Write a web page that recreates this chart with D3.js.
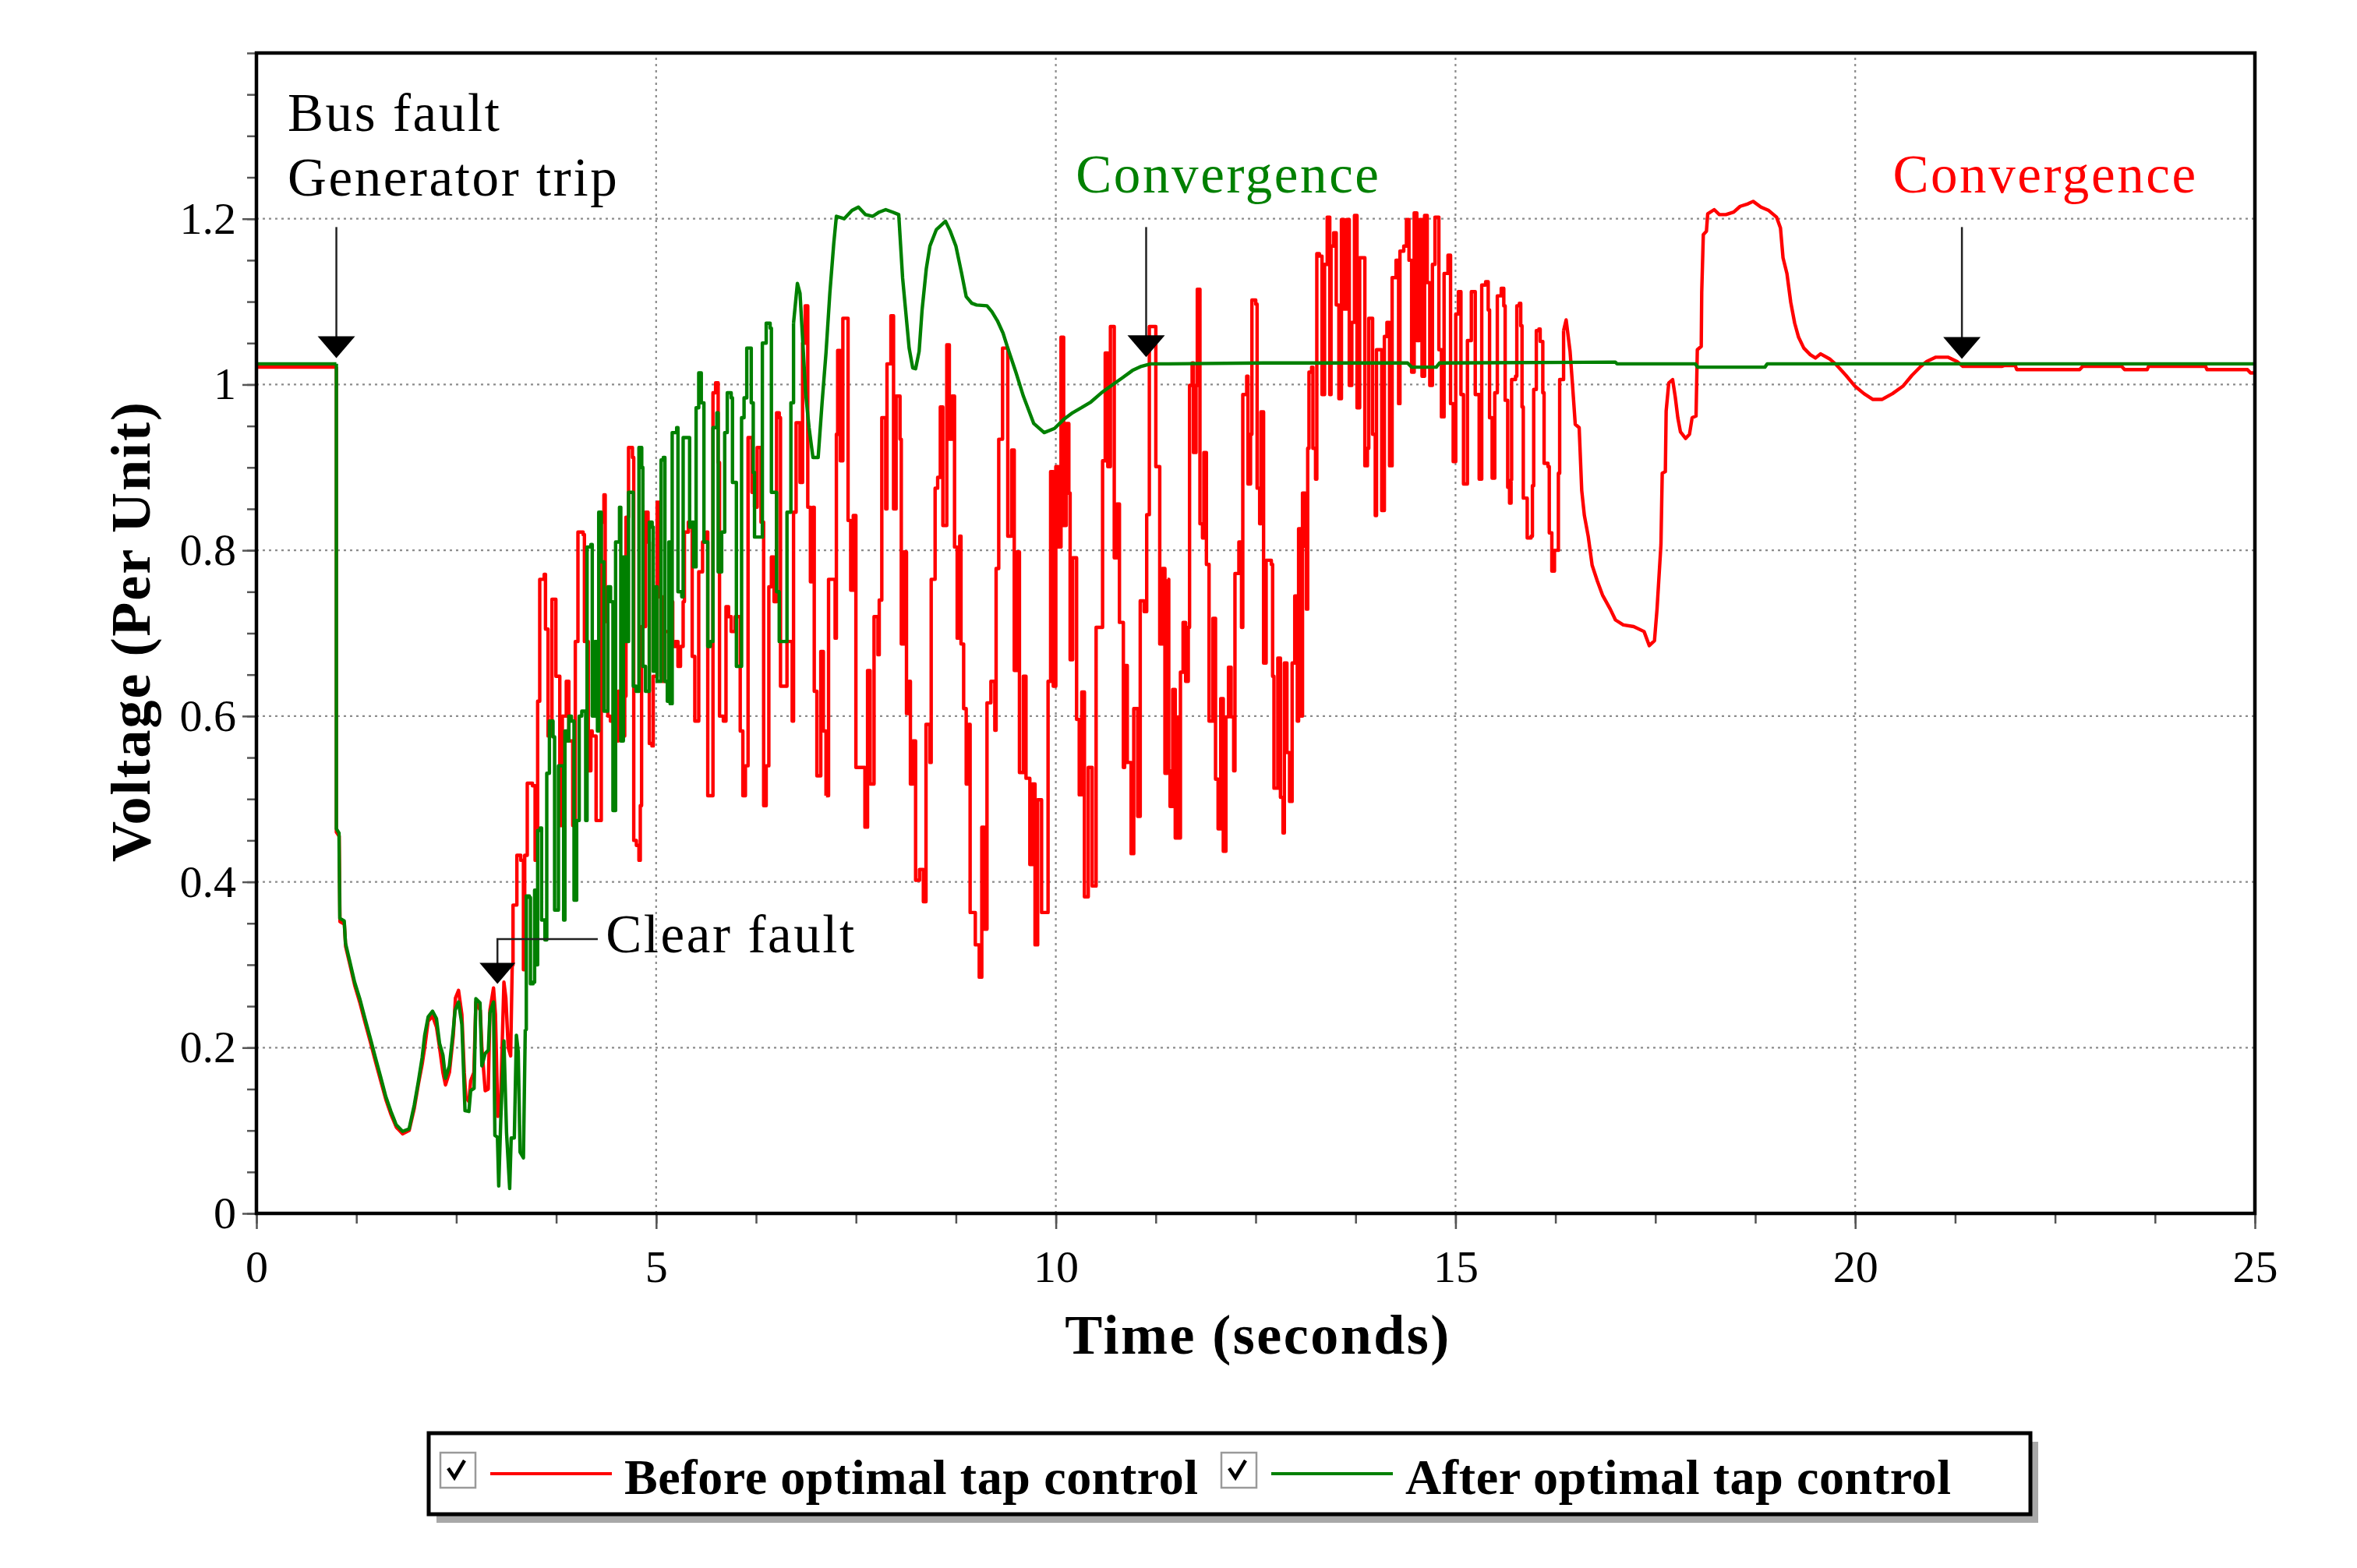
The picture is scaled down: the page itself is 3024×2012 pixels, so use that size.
<!DOCTYPE html>
<html>
<head>
<meta charset="utf-8">
<script src="https://cdn.jsdelivr.net/npm/d3@7"></script>
<style>
  html, body { margin: 0; padding: 0; background: #fff; }
  svg text { font-family: "Liberation Serif", "Times New Roman", serif; }
</style>
</head>
<body>
<div id="chart"></div>
<script>
// ---- data: [time (s), voltage (p.u.)] ----
var redPre = [[0, 1.021], [1.0, 1.021]];
var redFault = [[1.0, 0.46], [1.035, 0.455], [1.045, 0.352], [1.1, 0.349], [1.116, 0.322], [1.165, 0.302], [1.23, 0.275], [1.295, 0.254], [1.36, 0.23], [1.425, 0.207], [1.49, 0.183], [1.555, 0.16], [1.62, 0.137], [1.685, 0.119], [1.75, 0.104], [1.83, 0.096], [1.91, 0.1], [1.975, 0.127], [2.024, 0.155], [2.073, 0.18], [2.105, 0.2], [2.148, 0.232], [2.203, 0.238], [2.252, 0.225], [2.291, 0.2], [2.333, 0.17], [2.365, 0.155], [2.414, 0.17], [2.463, 0.215], [2.49, 0.26], [2.528, 0.269], [2.57, 0.24], [2.6, 0.17], [2.62, 0.14], [2.658, 0.135], [2.68, 0.16], [2.72, 0.17], [2.745, 0.255], [2.8, 0.245], [2.82, 0.2], [2.862, 0.148], [2.9, 0.15], [2.921, 0.245], [2.966, 0.272], [2.99, 0.24], [3.02, 0.117], [3.05, 0.12], [3.096, 0.279], [3.12, 0.26], [3.15, 0.2], [3.18, 0.19], [3.2, 0.3]];
var redSwingA = [[3.21, 0.372], [3.258, 0.432], [3.307, 0.426], [3.34, 0.294], [3.356, 0.432], [3.388, 0.519], [3.453, 0.516], [3.486, 0.426], [3.518, 0.618], [3.544, 0.765], [3.6, 0.771], [3.616, 0.705], [3.648, 0.576], [3.697, 0.741], [3.73, 0.741], [3.746, 0.648], [3.795, 0.468], [3.827, 0.6], [3.876, 0.642], [3.908, 0.57], [3.957, 0.468], [3.989, 0.69], [4.022, 0.822], [4.087, 0.819], [4.103, 0.69], [4.152, 0.534], [4.184, 0.582], [4.2, 0.576], [4.249, 0.474], [4.298, 0.474], [4.314, 0.834], [4.347, 0.867], [4.363, 0.714], [4.396, 0.6], [4.428, 0.594], [4.477, 0.57], [4.526, 0.63], [4.558, 0.576], [4.607, 0.624], [4.623, 0.84], [4.655, 0.924], [4.704, 0.912], [4.72, 0.45], [4.753, 0.444], [4.785, 0.426], [4.802, 0.492], [4.818, 0.708], [4.867, 0.846], [4.899, 0.81], [4.915, 0.567], [4.948, 0.564], [4.964, 0.648], [5.013, 0.858], [5.045, 0.744], [5.078, 0.642], [5.11, 0.702], [5.175, 0.738], [5.208, 0.684], [5.24, 0.69], [5.273, 0.66], [5.305, 0.684], [5.338, 0.738], [5.354, 0.822], [5.403, 0.834], [5.435, 0.828], [5.451, 0.672], [5.484, 0.594], [5.516, 0.594], [5.533, 0.774], [5.581, 0.81], [5.63, 0.822], [5.646, 0.504], [5.695, 0.504], [5.711, 0.99], [5.744, 1.002], [5.776, 0.906], [5.793, 0.6], [5.841, 0.594], [5.874, 0.732], [5.906, 0.72], [5.939, 0.702], [5.988, 0.72], [6.052, 0.582], [6.085, 0.504], [6.117, 0.54], [6.15, 0.936], [6.199, 0.87], [6.231, 0.852], [6.264, 0.924], [6.312, 0.834], [6.345, 0.492], [6.377, 0.54], [6.41, 0.756], [6.442, 0.792], [6.475, 0.738], [6.507, 0.966], [6.54, 0.96], [6.556, 0.636], [6.605, 0.636], [6.637, 0.69], [6.67, 0.69], [6.702, 0.594], [6.719, 0.846], [6.751, 0.954], [6.8, 0.882], [6.832, 1.05], [6.865, 1.095], [6.897, 0.852], [6.93, 0.762], [6.962, 0.852], [6.978, 0.63], [7.011, 0.528], [7.06, 0.678], [7.092, 0.582], [7.125, 0.504]];
var redSwingB = [[7.157, 0.765], [7.222, 0.765], [7.239, 0.694], [7.255, 0.94], [7.271, 1.041], [7.304, 0.908], [7.336, 1.08], [7.385, 1.08], [7.401, 0.836], [7.434, 0.752], [7.466, 0.842], [7.499, 0.674], [7.499, 0.538], [7.564, 0.538], [7.612, 0.466], [7.645, 0.655], [7.677, 0.518], [7.726, 0.72], [7.775, 0.674], [7.791, 0.74], [7.823, 0.96], [7.872, 0.85], [7.888, 1.025], [7.937, 1.083], [7.97, 0.85], [8.002, 0.986], [8.051, 0.934], [8.067, 0.687], [8.1, 0.798], [8.132, 0.603], [8.165, 0.642], [8.181, 0.518], [8.213, 0.57], [8.246, 0.402], [8.295, 0.415], [8.343, 0.376], [8.376, 0.59], [8.425, 0.544], [8.441, 0.765], [8.49, 0.875], [8.522, 0.888], [8.555, 0.973], [8.587, 0.83], [8.636, 1.048], [8.668, 0.934], [8.701, 0.986], [8.733, 0.804], [8.766, 0.694], [8.798, 0.817], [8.814, 0.687], [8.847, 0.609], [8.879, 0.518], [8.912, 0.59], [8.928, 0.363], [8.993, 0.324], [9.042, 0.285], [9.074, 0.466], [9.107, 0.343], [9.139, 0.616], [9.188, 0.642], [9.237, 0.583], [9.253, 0.778], [9.286, 0.934], [9.334, 1.044], [9.367, 1.044], [9.399, 0.817], [9.448, 0.921], [9.48, 0.655], [9.513, 0.798], [9.545, 0.532], [9.594, 0.648], [9.627, 0.525], [9.675, 0.421], [9.708, 0.518], [9.74, 0.324], [9.773, 0.499], [9.822, 0.363], [9.87, 0.363], [9.903, 0.642], [9.935, 0.895], [9.968, 0.636], [10.0, 0.901], [10.033, 0.804], [10.065, 1.057], [10.098, 0.83], [10.13, 0.953], [10.163, 0.869], [10.179, 0.668], [10.211, 0.791], [10.26, 0.596], [10.293, 0.505], [10.325, 0.629], [10.358, 0.382], [10.406, 0.538], [10.455, 0.395], [10.504, 0.707], [10.553, 0.707], [10.585, 0.908], [10.618, 1.038], [10.65, 0.901], [10.683, 1.07], [10.731, 0.791], [10.764, 0.856], [10.796, 0.713], [10.845, 0.538], [10.861, 0.661], [10.894, 0.544], [10.942, 0.434], [10.975, 0.609], [11.024, 0.479], [11.056, 0.739], [11.105, 0.726], [11.137, 0.843], [11.17, 1.07], [11.219, 1.07], [11.251, 0.901], [11.3, 0.687], [11.332, 0.778], [11.365, 0.531], [11.397, 0.765]];
var redSwingC = [[11.413, 0.534], [11.429, 0.491], [11.462, 0.632], [11.494, 0.453], [11.527, 0.599], [11.543, 0.453], [11.559, 0.653], [11.592, 0.713], [11.624, 0.642], [11.657, 0.707], [11.673, 0.999], [11.705, 1.026], [11.722, 0.918], [11.754, 0.999], [11.77, 1.115], [11.803, 1.085], [11.803, 0.832], [11.835, 0.815], [11.852, 0.918], [11.884, 0.783], [11.917, 0.594], [11.965, 0.718], [11.998, 0.524], [12.03, 0.464], [12.063, 0.621], [12.095, 0.437], [12.128, 0.599], [12.16, 0.659], [12.193, 0.599], [12.225, 0.534], [12.241, 0.772], [12.29, 0.81], [12.323, 0.707], [12.339, 0.988], [12.388, 1.01], [12.404, 0.88], [12.436, 0.94], [12.453, 1.102], [12.501, 1.097], [12.518, 0.875], [12.55, 0.832], [12.566, 0.967], [12.599, 0.664], [12.631, 0.788], [12.696, 0.783], [12.712, 0.648], [12.729, 0.513], [12.777, 0.67], [12.81, 0.502], [12.842, 0.459], [12.859, 0.664], [12.891, 0.556], [12.924, 0.497], [12.956, 0.664], [12.989, 0.745], [13.021, 0.594], [13.037, 0.826], [13.07, 0.6], [13.086, 0.869], [13.119, 0.805], [13.135, 0.729], [13.151, 0.923], [13.167, 1.015], [13.2, 1.021], [13.216, 0.923], [13.249, 0.886], [13.265, 1.158], [13.297, 1.155], [13.33, 0.988], [13.362, 1.145], [13.395, 1.202], [13.427, 0.988], [13.443, 1.167], [13.476, 1.183], [13.508, 1.096], [13.541, 0.983], [13.573, 1.199], [13.606, 1.091], [13.638, 1.199], [13.671, 0.999], [13.703, 1.075], [13.736, 1.204], [13.768, 0.972], [13.801, 1.153], [13.85, 1.153], [13.866, 0.902], [13.898, 0.923], [13.915, 1.08], [13.947, 1.08], [13.963, 0.94], [13.996, 0.842], [14.012, 1.042], [14.061, 1.042], [14.077, 0.848], [14.11, 1.058], [14.142, 1.075], [14.175, 0.902], [14.207, 1.129], [14.256, 1.15], [14.288, 0.977], [14.305, 1.161], [14.353, 1.167], [14.386, 1.199], [14.418, 1.15], [14.451, 1.015], [14.483, 1.207], [14.516, 1.053], [14.548, 1.199], [14.581, 1.01], [14.613, 1.204], [14.646, 1.123], [14.678, 0.999], [14.711, 1.145], [14.743, 1.202], [14.792, 1.042], [14.824, 0.961], [14.857, 1.134], [14.906, 1.156], [14.938, 0.977], [14.971, 0.907], [15.003, 1.085], [15.036, 1.112], [15.068, 0.988], [15.1, 0.88], [15.149, 1.053], [15.198, 1.112], [15.247, 0.988], [15.296, 0.886], [15.328, 1.12], [15.377, 1.124], [15.409, 1.09], [15.426, 0.96], [15.458, 0.887], [15.491, 0.887], [15.491, 0.99], [15.523, 0.99], [15.523, 1.107], [15.572, 1.116], [15.604, 1.095], [15.621, 0.981], [15.653, 0.979], [15.653, 0.876], [15.676, 0.857], [15.695, 0.885], [15.702, 1.006], [15.751, 1.01], [15.767, 1.095], [15.799, 1.098], [15.816, 1.071], [15.832, 0.973], [15.848, 0.863], [15.897, 0.815], [15.946, 0.817], [15.962, 0.878], [15.978, 0.994], [16.011, 1.065], [16.043, 1.067], [16.059, 1.052], [16.092, 0.99], [16.108, 0.905], [16.157, 0.901], [16.173, 0.821], [16.205, 0.775], [16.238, 0.8], [16.27, 0.8], [16.287, 0.893], [16.303, 1.006], [16.352, 1.065]];
var redSettle = [[16.384, 1.078], [16.433, 1.04], [16.465, 0.998], [16.498, 0.952], [16.547, 0.948], [16.579, 0.872], [16.612, 0.842], [16.66, 0.817], [16.709, 0.782], [16.774, 0.763], [16.839, 0.746], [16.936, 0.729], [17.001, 0.716], [17.099, 0.71], [17.229, 0.708], [17.359, 0.702], [17.424, 0.685], [17.489, 0.691], [17.521, 0.729], [17.57, 0.807], [17.586, 0.893], [17.625, 0.895], [17.635, 0.968], [17.668, 1.002], [17.716, 1.006], [17.749, 0.985], [17.781, 0.96], [17.814, 0.943], [17.879, 0.935], [17.927, 0.94], [17.96, 0.96], [18.009, 0.962], [18.025, 1.042], [18.074, 1.046], [18.08, 1.111], [18.1, 1.181], [18.139, 1.185], [18.155, 1.206], [18.236, 1.211], [18.301, 1.205], [18.382, 1.205], [18.48, 1.208], [18.561, 1.215], [18.658, 1.218], [18.723, 1.221], [18.821, 1.214], [18.918, 1.21], [19.016, 1.202], [19.065, 1.189], [19.097, 1.153], [19.146, 1.134], [19.194, 1.099], [19.243, 1.074], [19.292, 1.057], [19.357, 1.044], [19.438, 1.036], [19.503, 1.032], [19.568, 1.037], [19.679, 1.031], [19.772, 1.023], [19.885, 1.011], [19.997, 0.998], [20.11, 0.989], [20.222, 0.982], [20.334, 0.982], [20.466, 0.989], [20.597, 0.998], [20.709, 1.011], [20.822, 1.022], [20.897, 1.028], [21.009, 1.033], [21.159, 1.033], [21.271, 1.028], [21.346, 1.022], [21.834, 1.022], [21.871, 1.023], [22.002, 1.023], [22.021, 1.018], [22.808, 1.018], [22.846, 1.022], [23.333, 1.022], [23.37, 1.018], [23.652, 1.018], [23.67, 1.022], [24.382, 1.022], [24.401, 1.018], [24.907, 1.018], [24.945, 1.014], [25, 1.014]];

var greenPre = [[0, 1.025], [1.0, 1.025]];
var greenFault = [[1.0, 0.464], [1.033, 0.459], [1.043, 0.356], [1.098, 0.353], [1.114, 0.326], [1.163, 0.306], [1.228, 0.279], [1.293, 0.259], [1.358, 0.235], [1.423, 0.212], [1.488, 0.188], [1.553, 0.165], [1.618, 0.141], [1.683, 0.123], [1.748, 0.107], [1.829, 0.099], [1.91, 0.102], [1.975, 0.131], [2.024, 0.158], [2.073, 0.188], [2.105, 0.215], [2.148, 0.237], [2.203, 0.244], [2.252, 0.235], [2.291, 0.205], [2.333, 0.191], [2.365, 0.163], [2.414, 0.178], [2.463, 0.222], [2.485, 0.245], [2.528, 0.255], [2.57, 0.228], [2.609, 0.124], [2.658, 0.123], [2.68, 0.148], [2.723, 0.151], [2.745, 0.259], [2.797, 0.254], [2.82, 0.178], [2.862, 0.193], [2.901, 0.197], [2.921, 0.242], [2.966, 0.255], [2.983, 0.094], [3.015, 0.092], [3.031, 0.033], [3.057, 0.114], [3.096, 0.208], [3.129, 0.097], [3.168, 0.03], [3.187, 0.091], [3.226, 0.091], [3.252, 0.215], [3.275, 0.195], [3.298, 0.074], [3.34, 0.067], [3.363, 0.222]];
var greenRise = [[3.376, 0.383], [3.415, 0.381], [3.428, 0.277], [3.46, 0.279], [3.48, 0.39], [3.5, 0.3], [3.518, 0.462], [3.55, 0.465], [3.567, 0.354], [3.609, 0.33], [3.632, 0.531], [3.665, 0.594], [3.71, 0.575], [3.73, 0.366], [3.778, 0.54], [3.82, 0.54], [3.843, 0.354], [3.859, 0.582], [3.89, 0.57], [3.908, 0.6], [3.94, 0.594], [3.973, 0.378], [4.006, 0.474], [4.038, 0.6], [4.07, 0.606], [4.119, 0.474], [4.136, 0.804], [4.184, 0.807], [4.201, 0.6], [4.233, 0.69], [4.266, 0.582], [4.282, 0.846], [4.314, 0.786], [4.347, 0.606], [4.396, 0.756], [4.43, 0.738], [4.46, 0.486], [4.493, 0.81], [4.542, 0.852], [4.558, 0.57], [4.59, 0.792], [4.623, 0.69], [4.655, 0.87], [4.704, 0.87], [4.714, 0.636], [4.75, 0.63], [4.785, 0.924], [4.82, 0.9], [4.834, 0.66], [4.867, 0.63], [4.915, 0.834], [4.95, 0.828], [4.964, 0.654], [4.98, 0.756], [5.013, 0.642], [5.062, 0.909], [5.09, 0.912], [5.11, 0.642], [5.14, 0.618], [5.159, 0.81], [5.175, 0.615], [5.201, 0.942], [5.257, 0.948], [5.273, 0.75], [5.321, 0.744], [5.338, 0.936], [5.403, 0.936], [5.419, 0.828], [5.45, 0.834], [5.468, 0.78], [5.5, 0.972], [5.533, 1.014], [5.565, 0.978], [5.598, 0.81], [5.63, 0.81], [5.646, 0.684], [5.679, 0.69], [5.711, 0.948], [5.76, 0.966], [5.776, 0.774], [5.82, 0.822], [5.858, 0.942], [5.89, 0.99], [5.939, 0.984], [5.955, 0.882], [5.99, 0.882], [6.004, 0.66], [6.052, 0.66], [6.069, 0.96], [6.1, 0.984], [6.134, 1.044], [6.166, 1.044], [6.19, 0.978], [6.215, 0.894], [6.231, 0.816], [6.28, 0.816], [6.329, 1.05], [6.377, 1.074], [6.426, 1.068], [6.442, 0.87], [6.507, 0.75], [6.54, 0.69], [6.605, 0.69], [6.637, 0.846], [6.686, 0.978], [6.719, 1.074]];
var greenPeak = [[6.767, 1.122], [6.8, 1.11], [6.832, 1.056], [6.87, 0.99], [6.913, 0.948], [6.962, 0.912], [7.027, 0.912], [7.076, 0.978], [7.125, 1.038], [7.173, 1.11], [7.222, 1.17], [7.255, 1.203], [7.352, 1.2], [7.45, 1.21], [7.531, 1.214], [7.62, 1.205], [7.71, 1.203], [7.79, 1.208], [7.872, 1.211], [7.96, 1.208], [8.035, 1.205], [8.083, 1.129], [8.165, 1.044], [8.21, 1.02], [8.246, 1.019], [8.29, 1.04], [8.327, 1.09], [8.38, 1.14], [8.425, 1.167], [8.506, 1.187], [8.62, 1.197], [8.68, 1.185], [8.75, 1.167], [8.82, 1.135], [8.879, 1.106], [8.95, 1.098], [9.009, 1.096], [9.139, 1.095], [9.2, 1.088], [9.269, 1.077], [9.34, 1.062], [9.399, 1.044], [9.5, 1.015], [9.594, 0.986], [9.724, 0.953], [9.854, 0.942], [9.984, 0.947], [10.1, 0.958], [10.211, 0.966], [10.32, 0.972], [10.439, 0.979], [10.57, 0.99], [10.699, 0.999], [10.83, 1.008], [10.959, 1.017], [11.07, 1.022], [11.186, 1.025]];
var greenSettle = [[11.41, 1.025], [12.6, 1.026], [14.4, 1.026], [14.45, 1.021], [14.76, 1.021], [14.8, 1.026], [17.0, 1.027], [17.02, 1.025], [18.0, 1.025], [18.03, 1.021], [18.87, 1.021], [18.9, 1.025], [25, 1.025]];

var xTicks = [0, 5, 10, 15, 20, 25];
var xTickLabels = ["0", "5", "10", "15", "20", "25"];
var yTicks = [0, 0.2, 0.4, 0.6, 0.8, 1.0, 1.2];
var yTickLabels = ["0", "0.2", "0.4", "0.6", "0.8", "1", "1.2"];
var seriesNames = ["Before optimal tap control", "After optimal tap control"];

// ---- layout ----
var svgWidth = 3024, svgHeight = 2012;
var plotLeft = 329, plotRight = 2893, plotTop = 68, plotBottom = 1557;
var red = "#ff0000", green = "#008000";

var svg = d3.select("#chart").append("svg")
    .attr("width", svgWidth)
    .attr("height", svgHeight);

var x = d3.scaleLinear().domain([0, 25]).range([plotLeft, plotRight]);
var y = d3.scaleLinear().domain([0, 1.4]).range([plotBottom, plotTop]);

// grid (dotted)
svg.append("g").selectAll("line")
    .data(xTicks.slice(1, -1))
    .enter().append("line")
    .attr("x1", function (d) { return x(d); })
    .attr("x2", function (d) { return x(d); })
    .attr("y1", y(0)).attr("y2", y(1.4))
    .attr("stroke", "#8c8c8c").attr("stroke-width", 2.2)
    .attr("stroke-dasharray", "3,5");
svg.append("g").selectAll("line")
    .data(yTicks.slice(1))
    .enter().append("line")
    .attr("x1", x(0)).attr("x2", x(25))
    .attr("y1", function (d) { return y(d); })
    .attr("y2", function (d) { return y(d); })
    .attr("stroke", "#8c8c8c").attr("stroke-width", 2.2)
    .attr("stroke-dasharray", "3,5");

// minor ticks
var xMinor = d3.range(0, 25.01, 1.25);
var yMinor = d3.range(0, 1.401, 0.05);
svg.append("g")
    .attr("transform", "translate(0," + plotBottom + ")")
    .call(d3.axisBottom(x).tickValues(xMinor).tickSize(13).tickFormat(""))
    .call(function (g) { g.select(".domain").remove(); })
    .selectAll("line").attr("stroke", "#555").attr("stroke-width", 2.5);
svg.append("g")
    .attr("transform", "translate(" + plotLeft + ",0)")
    .call(d3.axisLeft(y).tickValues(yMinor).tickSize(12).tickFormat(""))
    .call(function (g) { g.select(".domain").remove(); })
    .selectAll("line").attr("stroke", "#555").attr("stroke-width", 2.5);

// major ticks + labels
var xAxis = svg.append("g")
    .attr("transform", "translate(0," + plotBottom + ")")
    .call(d3.axisBottom(x).tickValues(xTicks).tickSize(20).tickPadding(27)
        .tickFormat(function (d, i) { return xTickLabels[i]; }));
xAxis.select(".domain").remove();
xAxis.selectAll("line").attr("stroke", "#555").attr("stroke-width", 2.5);
xAxis.selectAll("text").attr("font-size", 58).attr("fill", "#000")
    .style("font-family", "Liberation Serif");

var yAxis = svg.append("g")
    .attr("transform", "translate(" + plotLeft + ",0)")
    .call(d3.axisLeft(y).tickValues(yTicks).tickSize(18).tickPadding(8)
        .tickFormat(function (d, i) { return yTickLabels[i]; }));
yAxis.select(".domain").remove();
yAxis.selectAll("line").attr("stroke", "#555").attr("stroke-width", 2.5);
yAxis.selectAll("text").attr("font-size", 58).attr("fill", "#000")
    .style("font-family", "Liberation Serif");

// series: oscillating stretches drawn as steps (sampled output), smooth stretches linear
var stepLine = d3.line().curve(d3.curveStepAfter)
    .x(function (d) { return x(d[0]); })
    .y(function (d) { return y(d[1]); });
var smoothLine = d3.line()
    .x(function (d) { return x(d[0]); })
    .y(function (d) { return y(d[1]); });

function drawSeries(parts, color) {
    var last = null;
    parts.forEach(function (p) {
        var pts = last ? [last].concat(p.data) : p.data;
        svg.append("path").datum(pts)
            .attr("d", p.step ? stepLine : smoothLine)
            .attr("fill", "none")
            .attr("stroke", color).attr("stroke-width", 4.4)
            .attr("stroke-linejoin", "round");
        last = p.data[p.data.length - 1];
    });
}

drawSeries([
    {data: redPre, step: false}, {data: redFault, step: false},
    {data: redSwingA, step: true}, {data: redSwingB, step: true},
    {data: redSwingC, step: true}, {data: redSettle, step: false}
], red);
drawSeries([
    {data: greenPre, step: false}, {data: greenFault, step: false},
    {data: greenRise, step: true}, {data: greenPeak, step: false},
    {data: greenSettle, step: false}
], green);

// frame
svg.append("rect")
    .attr("x", plotLeft).attr("y", plotTop)
    .attr("width", plotRight - plotLeft).attr("height", plotBottom - plotTop)
    .attr("fill", "none").attr("stroke", "#000").attr("stroke-width", 4.5);

// annotations
function arrow(t, vTop, vTip, headW, headH) {
    var cx = x(t), tip = y(vTip);
    svg.append("line")
        .attr("x1", cx).attr("x2", cx)
        .attr("y1", y(vTop)).attr("y2", tip - headH + 2)
        .attr("stroke", "#222").attr("stroke-width", 2.5);
    svg.append("path")
        .attr("d", "M" + (cx - headW / 2) + "," + (tip - headH) +
            "L" + (cx + headW / 2) + "," + (tip - headH) +
            "L" + cx + "," + tip + "Z")
        .attr("fill", "#000");
}

function note(t, v, txt, color) {
    svg.append("text")
        .attr("x", x(t)).attr("y", y(v))
        .attr("font-size", 69).attr("fill", color)
        .style("letter-spacing", "2.6px")
        .text(txt);
}

note(0.39, 1.306, "Bus fault", "#000");
note(0.39, 1.228, "Generator trip", "#000");
arrow(1.0, 1.19, 1.032, 48, 28);

note(10.25, 1.232, "Convergence", green);
arrow(11.13, 1.19, 1.033, 48, 28);

note(20.47, 1.232, "Convergence", red);
arrow(21.335, 1.19, 1.031, 48, 28);

// clear fault: elbow leader
svg.append("polyline")
    .attr("points", [x(4.27) + "," + y(0.331), x(3.015) + "," + y(0.331),
        x(3.015) + "," + (y(0.277) - 25)].join(" "))
    .attr("fill", "none").attr("stroke", "#222").attr("stroke-width", 2.5);
svg.append("path")
    .attr("d", "M" + (x(3.015) - 23) + "," + (y(0.277) - 27) +
        "L" + (x(3.015) + 23) + "," + (y(0.277) - 27) +
        "L" + x(3.015) + "," + y(0.277) + "Z")
    .attr("fill", "#000");
note(4.37, 0.315, "Clear fault", "#000");

// axis titles
svg.append("text")
    .attr("x", 1614).attr("y", 1737)
    .attr("text-anchor", "middle")
    .attr("font-size", 72).attr("font-weight", "bold")
    .style("letter-spacing", "2.5px")
    .text("Time (seconds)");
svg.append("text")
    .attr("transform", "translate(192,810) rotate(-90)")
    .attr("text-anchor", "middle")
    .attr("font-size", 72).attr("font-weight", "bold")
    .style("letter-spacing", "2px")
    .text("Voltage (Per Unit)");

// legend
var lg = svg.append("g");
lg.append("rect")
    .attr("x", 560).attr("y", 1850).attr("width", 2055).attr("height", 104)
    .attr("fill", "#a8a8a8");
lg.append("rect")
    .attr("x", 550).attr("y", 1839).attr("width", 2055).attr("height", 104)
    .attr("fill", "#fff").attr("stroke", "#000").attr("stroke-width", 5);

var legendX = [565, 1567];
var legendColors = [red, green];
seriesNames.forEach(function (name, i) {
    var lx = legendX[i];
    lg.append("rect")
        .attr("x", lx).attr("y", 1864).attr("width", 45).attr("height", 45)
        .attr("fill", "#fff").attr("stroke", "#9a9a9a").attr("stroke-width", 2.5);
    lg.append("path")
        .attr("d", "M" + (lx + 10) + ",1884 L" + (lx + 18) + ",1896 L" + (lx + 31) + ",1874")
        .attr("fill", "none").attr("stroke", "#000").attr("stroke-width", 4.5);
    lg.append("line")
        .attr("x1", lx + 64).attr("x2", lx + 220)
        .attr("y1", 1891).attr("y2", 1891)
        .attr("stroke", legendColors[i]).attr("stroke-width", 4);
    lg.append("text")
        .attr("x", lx + 236).attr("y", 1917)
        .attr("font-size", 64).attr("font-weight", "bold")
        .style("letter-spacing", "0.6px")
        .text(name);
});
</script>
</body>
</html>
